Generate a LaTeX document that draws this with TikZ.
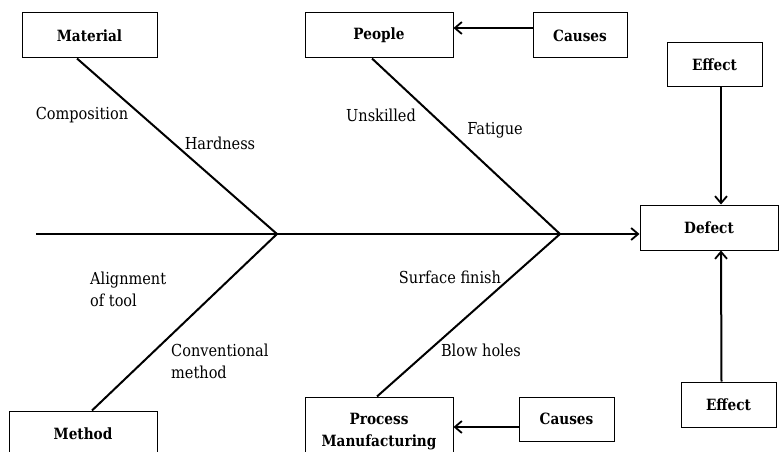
\documentclass[tikz,border=0pt]{standalone}
\usepackage{fontspec}
\setmainfont{DejaVu Serif}[FakeStretch=0.88]
\usetikzlibrary{arrows.meta,calc}
\begin{document}
\begin{tikzpicture}[x=1pt,y=-1pt,
  box/.style={draw, line width=1pt, font=\fontsize{15.5}{22}\selectfont\bfseries, align=center, inner sep=0pt},
  lbl/.style={font=\fontsize{16.5}{22}\selectfont, align=left, inner sep=0pt},
  bone/.style={line width=2pt},
  arr/.style={line width=2pt, -{Straight Barb[length=7pt,width=12pt,line width=1.8pt]}}]
\useasboundingbox (0,0) rectangle (780,452);
% boxes
\node[box, minimum width=135pt, minimum height=45pt] (mat) at (89.5,35.5) {Material};
\node[box, minimum width=148pt, minimum height=45pt] (peo) at (379,35.5) {People};
\node[box, minimum width=94pt, minimum height=45pt] (c1) at (580,35.5) {Causes};
\node[box, minimum width=95pt, minimum height=44pt] (e1) at (714.5,65) {Effect};
\node[box, minimum width=138pt, minimum height=45pt] (def) at (709,227.5) {Defect};
\node[box, minimum width=95pt, minimum height=45pt] (e2) at (728.5,404.5) {Effect};
\node[box, minimum width=148pt, minimum height=46pt] (met) at (83,434) {Method};
\node[box, minimum width=148pt, minimum height=70pt] (pro) at (379,432) {Process\\Manufacturing};
\node[box, minimum width=95pt, minimum height=44pt] (c2) at (566.5,419) {Causes};
% spine
\coordinate (s0) at (36,234);
\coordinate (j1) at (277,234);
\coordinate (j2) at (560,234);
\draw[arr] (s0) -- (def.west |- s0);
% bones
\draw[bone] ([xshift=-12.5pt]mat.south) -- (j1);
\draw[bone] ([xshift=-7pt]peo.south) -- (j2);
\draw[bone] (j1) -- ([xshift=9pt]met.north);
\draw[bone] (j2) -- ([xshift=-2pt]pro.north);
% arrows
\draw[arr] ([yshift=7.5pt]c1.west) -- ([yshift=7.5pt]peo.east);
\coordinate (c2a) at ([yshift=-8pt]c2.west);
\draw[arr] (c2a) -- (pro.east |- c2a);
\draw[arr] ([xshift=6.5pt]e1.south) -- ([xshift=12pt]def.north);
\draw[arr] ([xshift=-7pt]e2.north) -- ([xshift=12pt]def.south);
% labels
\node[lbl] (l1) at (82,115) {Composition};
\node[lbl] (l2) at (220,143) {Hardness};
\node[lbl] (l3) at (381,115) {Unskilled};
\node[lbl] (l4) at (495,130) {Fatigue};
\node[lbl, anchor=west] (l5) at (90,289) {Alignment\\of tool};
\node[lbl, anchor=west] (l6) at (171,361) {Conventional\\method};
\node[lbl] (l7) at (450,277) {Surface finish};
\node[lbl] (l8) at (481,350) {Blow holes};
\end{tikzpicture}
\end{document}
